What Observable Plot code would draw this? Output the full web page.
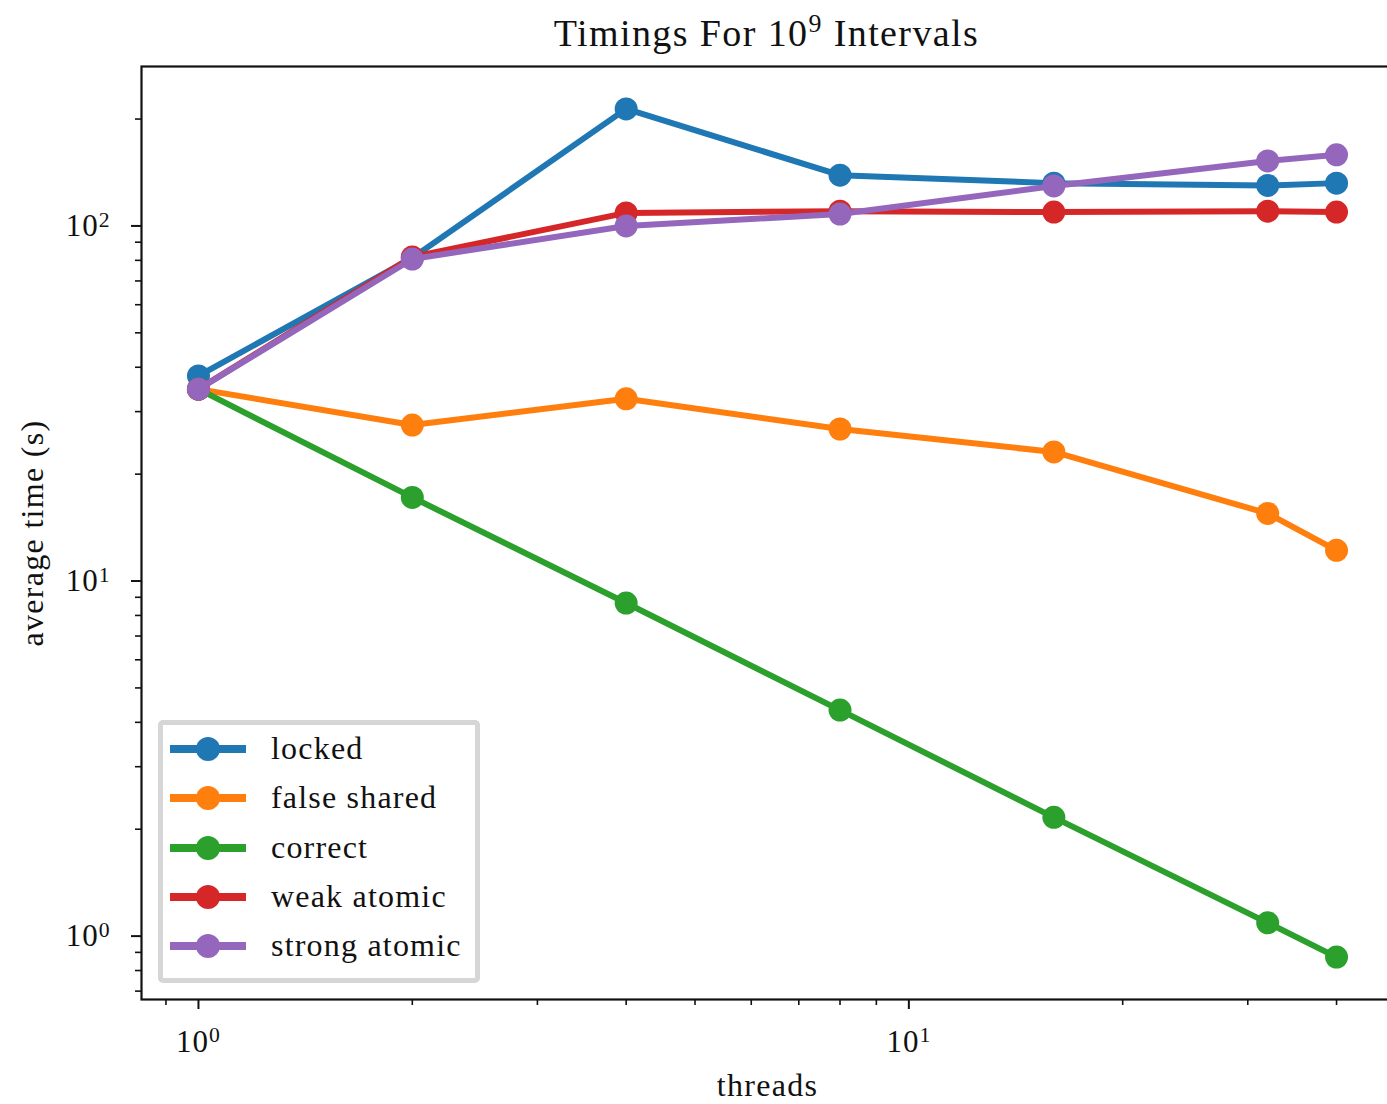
<!DOCTYPE html>
<html>
<head>
<meta charset="utf-8">
<script src="https://cdn.jsdelivr.net/npm/d3@7"></script>
<script src="https://cdn.jsdelivr.net/npm/@observablehq/plot@0.6"></script>
<style>
  html, body { margin: 0; padding: 0; background: #fff; overflow: hidden; }
  body { position: relative; width: 1387px; height: 1104px; font-family: "Liberation Serif", serif; color: #111; }
  #title { position: absolute; top: -9px; left: 141px; width: 1251px; text-align: center; font-size: 38px; letter-spacing: 1.4px; line-height: 66px; }
  #title .sup { font-size: 0.68em; vertical-align: 0.55em; }
  #chart { position: absolute; top: 50px; left: 0; width: 1400px; }
  #chart svg { max-width: none !important; }
  #legend { position: absolute; left: 158px; top: 720px; width: 312px; height: 253px; border: 5px solid #d6d6d6; border-radius: 5px; background: rgba(255,255,255,0.85); }
  #legend .row { position: absolute; left: 0; height: 40px; }
  #legend .row svg { position: absolute; left: 0; top: 0; }
  #legend .row span { position: absolute; left: 108px; top: -1px; line-height: 40px; font-size: 32px; letter-spacing: 1.2px; white-space: nowrap; }
</style>
</head>
<body>
<div id="title">Timings For 10<span class="sup">9</span> Intervals</div>
<div id="chart"></div>
<div id="legend"></div>
<script>
// ---- data ----
const threads = [1, 2, 4, 8, 16, 32, 40];
const seriesNames = ["locked", "false shared", "correct", "weak atomic", "strong atomic"];
const seriesColors = ["#1f77b4", "#ff7f0e", "#2ca02c", "#d62728", "#9467bd"];
const locked       = [37.8, 81.3, 213.6, 139, 132, 130, 132];
const falseShared  = [34.7, 27.5, 32.6, 26.8, 23.1, 15.5, 12.2];
const correct      = [34.7, 17.2, 8.67, 4.33, 2.16, 1.09, 0.873];
const weakAtomic   = [34.7, 81.8, 108.8, 110, 109.4, 110, 109.4];
const strongAtomic = [34.7, 80.7, 100, 108, 129.6, 152.4, 158.6];
const seriesValues = [locked, falseShared, correct, weakAtomic, strongAtomic];

const xMajorTicks = [1, 10];
const xMinorTicks = [0.9, 2, 3, 4, 5, 6, 7, 8, 9, 20, 30, 40];
const yMajorTicks = [1, 10, 100];
const yMinorTicks = [0.7, 0.8, 0.9, 2, 3, 4, 5, 6, 7, 8, 9, 20, 30, 40, 50, 60, 70, 80, 90, 200];
const xLabel = "threads";
const yLabel = "average time (s)";

// ---- build table ----
const rows = [];
seriesNames.forEach((name, i) => {
  threads.forEach((t, j) => rows.push({series: name, threads: t, time: seriesValues[i][j]}));
});

const powFmt = d => "10^" + Math.round(Math.log10(d));

const marks = [];
seriesNames.forEach((name, i) => {
  const d = rows.filter(r => r.series === name);
  marks.push(Plot.line(d, {x: "threads", y: "time", stroke: seriesColors[i], strokeWidth: 6, strokeLinejoin: "round"}));
  marks.push(Plot.dot(d, {x: "threads", y: "time", fill: seriesColors[i], r: 11.5}));
});

const chart = Plot.plot({
  width: 1393,
  height: 1054,
  marginLeft: 141,
  marginRight: 0,
  marginTop: 16,
  marginBottom: 105,
  style: {fontFamily: "Liberation Serif, serif", fontSize: "31px", color: "#111", background: "transparent", overflow: "visible", maxWidth: "none"},
  x: {type: "log", domain: [0.8314, 48.11]},
  y: {type: "log", domain: [0.663, 281.2]},
  marks: [
    ...marks,
    Plot.frame({stroke: "#111", strokeWidth: 2.2}),
    Plot.axisX({ticks: xMajorTicks, tickSize: 10, tickPadding: 20, tickFormat: powFmt, strokeWidth: 2, label: null}),
    Plot.axisX({ticks: xMinorTicks, tickSize: 6, tickFormat: () => "", strokeWidth: 1.6, label: null}),
    Plot.axisY({ticks: yMajorTicks, tickSize: 10, tickPadding: 21, tickFormat: powFmt, strokeWidth: 2, label: null}),
    Plot.axisY({ticks: yMinorTicks, tickSize: 6, tickFormat: () => "", strokeWidth: 1.6, label: null}),
    Plot.text([xLabel], {frameAnchor: "bottom", dy: 86, fontSize: 32, lineAnchor: "middle", textAnchor: "middle"}),
    Plot.text([yLabel], {frameAnchor: "left", dx: -109, rotate: -90, fontSize: 32, lineAnchor: "middle", textAnchor: "middle"})
  ]
});
chart.style.maxWidth = "none";
document.getElementById("chart").appendChild(chart);

// letter spacing for axis-title texts (Computer Modern is wider)
d3.select(chart).selectAll("text").each(function() {
  const t = this.textContent;
  if (t === xLabel || t === yLabel) d3.select(this).attr("letter-spacing", "1.3px");
});

// superscript exponents in tick labels
d3.select(chart).selectAll("text").each(function() {
  const t = this.textContent;
  const m = /^10\^(-?\d+)$/.exec(t);
  if (!m) return;
  const sel = d3.select(this);
  sel.text("");
  sel.attr("letter-spacing", "1px");
  sel.append("tspan").text("10");
  sel.append("tspan").attr("dy", "-0.42em").attr("font-size", "0.7em").text(m[1]);
});

// legend
const legend = document.getElementById("legend");
seriesNames.forEach((name, i) => {
  const row = document.createElement("div");
  row.className = "row";
  row.style.top = (4 + i * 49.3) + "px";
  row.style.width = "305px";
  const svgNS = "http://www.w3.org/2000/svg";
  const s = document.createElementNS(svgNS, "svg");
  s.setAttribute("width", "100"); s.setAttribute("height", "40");
  const ln = document.createElementNS(svgNS, "line");
  ln.setAttribute("x1", "7"); ln.setAttribute("x2", "83"); ln.setAttribute("y1", "20"); ln.setAttribute("y2", "20");
  ln.setAttribute("stroke", seriesColors[i]); ln.setAttribute("stroke-width", "8");
  const c = document.createElementNS(svgNS, "circle");
  c.setAttribute("cx", "45"); c.setAttribute("cy", "20"); c.setAttribute("r", "12");
  c.setAttribute("fill", seriesColors[i]);
  s.appendChild(ln); s.appendChild(c);
  const sp = document.createElement("span");
  sp.textContent = name;
  row.appendChild(s); row.appendChild(sp);
  legend.appendChild(row);
});
</script>
</body>
</html>
